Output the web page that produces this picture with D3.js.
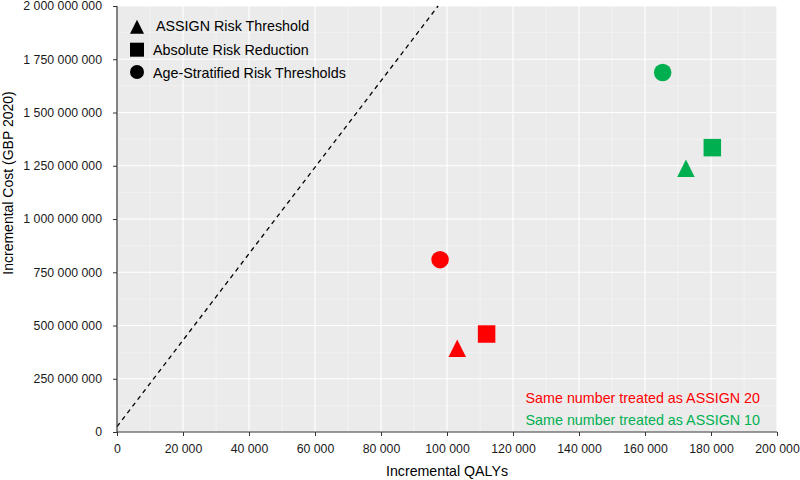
<!DOCTYPE html>
<html>
<head>
<meta charset="utf-8">
<script src="https://cdn.jsdelivr.net/npm/d3@7"></script>
<style>
  body { margin: 0; background: #fff; }
  svg { font-family: "Liberation Sans", Arial, sans-serif; }
</style>
</head>
<body>
<script>
// data
var strategies = ["ASSIGN Risk Threshold", "Absolute Risk Reduction", "Age-Stratified Risk Thresholds"];
var shapes = ["triangle", "square", "circle"];
var groups = ["Same number treated as ASSIGN 20", "Same number treated as ASSIGN 10"];
var groupColors = ["#ff0000", "#00b050"];
var qalys20 = [103100, 112000, 97900];
var cost20 = [393e6, 460e6, 809e6];
var qalys10 = [172400, 180400, 165350];
var cost10 = [1238e6, 1335e6, 1688e6];
var xTicks = [0, 20000, 40000, 60000, 80000, 100000, 120000, 140000, 160000, 180000, 200000];
var yTicks = [0, 250e6, 500e6, 750e6, 1000e6, 1250e6, 1500e6, 1750e6, 2000e6];
// threshold line (approx 20 000 GBP per QALY)
var thresholdLine = [[0, 25e6], [97300, 2000e6]];

var W = 800, H = 480;
var margin = {top: 6, right: 23, bottom: 48, left: 117};
var w = W - margin.left - margin.right;
var h = H - margin.top - margin.bottom;

var fmt = d3.formatLocale({decimal: ".", thousands: " ", grouping: [3], currency: ["", ""]}).format(",");

var svg = d3.select("body").append("svg")
    .attr("width", W)
    .attr("height", H);

var g = svg.append("g")
    .attr("transform", "translate(" + margin.left + "," + margin.top + ")");

var xScale = d3.scaleLinear().domain([0, 200000]).range([0, w]);
var yScale = d3.scaleLinear().domain([0, 2000e6]).range([h, 0]);

// panel
g.append("rect")
    .attr("width", w)
    .attr("height", h)
    .attr("fill", "#ebebeb");

// minor grid
var xMinor = xTicks.slice(0, -1).map(function(d) { return d + 10000; });
var yMinor = yTicks.slice(0, -1).map(function(d) { return d + 125e6; });

g.selectAll(".xminor").data(xMinor).enter().append("line")
    .attr("x1", function(d) { return xScale(d); })
    .attr("x2", function(d) { return xScale(d); })
    .attr("y1", 0).attr("y2", h)
    .attr("stroke", "#f7f7f7").attr("stroke-width", 0.6);
g.selectAll(".yminor").data(yMinor).enter().append("line")
    .attr("y1", function(d) { return yScale(d); })
    .attr("y2", function(d) { return yScale(d); })
    .attr("x1", 0).attr("x2", w)
    .attr("stroke", "#f7f7f7").attr("stroke-width", 0.6);

// major grid
g.selectAll(".xmajor").data(xTicks).enter().append("line")
    .attr("x1", function(d) { return xScale(d); })
    .attr("x2", function(d) { return xScale(d); })
    .attr("y1", 0).attr("y2", h)
    .attr("stroke", "#ffffff").attr("stroke-width", 1.1);
g.selectAll(".ymajor").data(yTicks).enter().append("line")
    .attr("y1", function(d) { return yScale(d); })
    .attr("y2", function(d) { return yScale(d); })
    .attr("x1", 0).attr("x2", w)
    .attr("stroke", "#ffffff").attr("stroke-width", 1.1);

// dashed threshold line
g.append("path")
    .datum(thresholdLine)
    .attr("d", d3.line()
        .x(function(d) { return xScale(d[0]); })
        .y(function(d) { return yScale(d[1]); }))
    .attr("fill", "none")
    .attr("stroke", "#000")
    .attr("stroke-width", 1.3)
    .attr("stroke-dasharray", "4.5,4");

// custom triangle centred on its bounding box
var tri = {
    draw: function(context, size) {
        var s = Math.sqrt(size);
        context.moveTo(0, -s / 2);
        context.lineTo(s / 2, s / 2);
        context.lineTo(-s / 2, s / 2);
        context.closePath();
    }
};
function symbolFor(shape, px) {
    if (shape == "triangle") return d3.symbol().type(tri).size(px * px)();
    if (shape == "square") return d3.symbol().type(d3.symbolSquare).size(px * px)();
    return d3.symbol().type(d3.symbolCircle).size(Math.PI * px * px / 4)();
}

// points
var points = [];
strategies.forEach(function(s, i) {
    points.push({shape: shapes[i], x: qalys20[i], y: cost20[i], color: groupColors[0]});
    points.push({shape: shapes[i], x: qalys10[i], y: cost10[i], color: groupColors[1]});
});

g.selectAll(".pt").data(points).enter().append("path")
    .attr("transform", function(d) { return "translate(" + xScale(d.x) + "," + yScale(d.y) + ")"; })
    .attr("d", function(d) { return symbolFor(d.shape, 17.5); })
    .attr("fill", function(d) { return d.color; });

// axes
var xAxis = g.append("g")
    .attr("transform", "translate(0," + h + ")")
    .call(d3.axisBottom(xScale).tickValues(xTicks).tickFormat(fmt).tickSize(4).tickPadding(8));
var yAxis = g.append("g")
    .call(d3.axisLeft(yScale).tickValues(yTicks).tickFormat(fmt).tickSize(4).tickPadding(11));

[xAxis, yAxis].forEach(function(a) {
    a.select(".domain").attr("stroke", "#333").attr("stroke-width", 1.2);
    a.selectAll(".tick line").attr("stroke", "#333");
    a.selectAll(".tick text")
        .attr("fill", "#1a1a1a")
        .style("font-size", "12.3px")
        .style("font-family", "'Liberation Sans', Arial, sans-serif");
});
yAxis.select(".domain").attr("d", "M0," + h + "V0");
xAxis.select(".domain").attr("d", "M0,0H" + w);

// axis titles
svg.append("text")
    .attr("x", margin.left + w / 2)
    .attr("y", 476)
    .attr("text-anchor", "middle")
    .style("font-size", "14.2px")
    .attr("fill", "#000")
    .text("Incremental QALYs");

svg.append("text")
    .attr("transform", "rotate(-90)")
    .attr("x", -183)
    .attr("y", 13)
    .attr("text-anchor", "middle")
    .style("font-size", "14px")
    .attr("fill", "#000")
    .text("Incremental Cost (GBP 2020)");

// legend
var legend = svg.append("g");
var legendY = [26.7, 49.7, 72];
var legendBase = [30.7, 55, 77.7];
strategies.forEach(function(s, i) {
    legend.append("path")
        .attr("transform", "translate(137," + legendY[i] + ")")
        .attr("d", symbolFor(shapes[i], 14))
        .attr("fill", "#000");
    legend.append("text")
        .attr("x", i == 0 ? 156 : 153)
        .attr("y", legendBase[i])
        .style("font-size", "14.3px")
        .attr("fill", "#000")
        .text(s);
});

// group annotations
var annY = [402.7, 425];
groups.forEach(function(t, i) {
    svg.append("text")
        .attr("x", 760)
        .attr("y", annY[i])
        .attr("text-anchor", "end")
        .style("font-size", "14.3px")
        .attr("fill", groupColors[i])
        .text(t);
});
</script>
</body>
</html>
